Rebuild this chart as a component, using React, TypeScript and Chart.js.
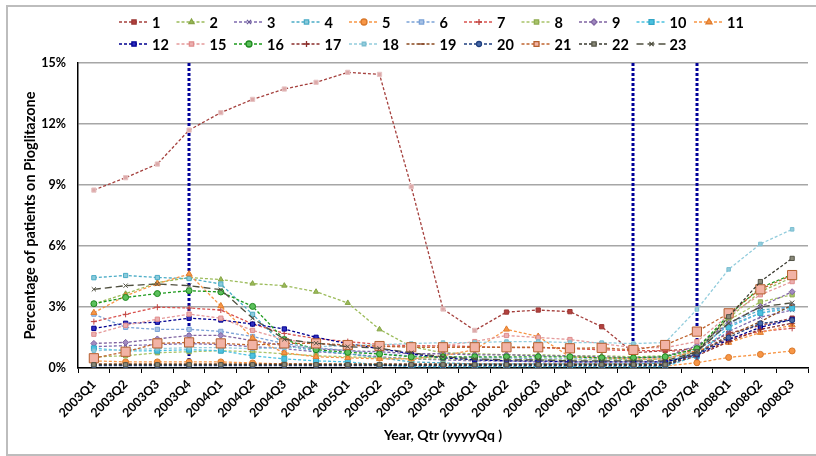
import React, { useEffect, useRef } from "react";
import { Chart, registerables } from "chart.js";
import { drawPoint } from "chart.js/helpers";
Chart.register(...registerables);

const quarters = [
  "2003Q1", "2003Q2", "2003Q3", "2003Q4", "2004Q1", "2004Q2", "2004Q3", "2004Q4",
  "2005Q1", "2005Q2", "2005Q3", "2005Q4", "2006Q1", "2006Q2", "2006Q3", "2006Q4",
  "2007Q1", "2007Q2", "2007Q3", "2007Q4", "2008Q1", "2008Q2", "2008Q3",
];
const markerQuarters = ["2003Q4", "2007Q2", "2007Q4"];
const yTickStep = 3;
const yMax = 15;

const s1 = [8.75, 9.36, 10.03, 11.7, 12.56, 13.21, 13.72, 14.05, 14.54, 14.44, 8.92, 2.9, 1.85, 2.75, 2.85, 2.77, 2.03, 0.75, 0.85, 0.95, 1.7, 2.1, 2.45];
const s2 = [3.15, 3.65, 4.2, 4.45, 4.35, 4.15, 4.05, 3.75, 3.2, 1.9, 1.05, 0.75, 0.7, 0.65, 0.65, 0.6, 0.6, 0.55, 0.6, 0.95, 2.45, 3.75, 4.45];
const s3 = [1.05, 1.1, 1.15, 1.2, 1.15, 1.05, 0.95, 0.8, 0.7, 0.55, 0.45, 0.4, 0.35, 0.35, 0.3, 0.3, 0.3, 0.3, 0.3, 0.7, 1.8, 2.5, 2.85];
const s4 = [4.44, 4.55, 4.45, 4.4, 4.13, 2.64, 1.1, 0.85, 0.7, 0.5, 0.3, 0.25, 0.2, 0.2, 0.2, 0.2, 0.2, 0.2, 0.25, 0.8, 2.2, 2.85, 3.0];
const s5 = [0.35, 0.3, 0.3, 0.3, 0.3, 0.25, 0.2, 0.2, 0.15, 0.15, 0.15, 0.1, 0.1, 0.1, 0.1, 0.1, 0.1, 0.1, 0.1, 0.26, 0.52, 0.67, 0.84];
const s6 = [2.65, 2.0, 1.9, 1.9, 1.8, 1.55, 1.2, 1.0, 0.85, 0.7, 0.6, 0.55, 0.5, 0.5, 0.45, 0.45, 0.45, 0.4, 0.45, 0.9, 2.1, 2.7, 3.05];
const s7 = [2.28, 2.64, 2.99, 2.95, 2.85, 2.16, 1.7, 1.45, 1.3, 1.15, 1.1, 1.1, 1.05, 1.0, 1.0, 0.95, 0.9, 0.85, 0.85, 0.8, 1.45, 1.8, 1.95];
const s8 = [0.55, 0.6, 0.75, 0.8, 0.85, 0.8, 0.7, 0.6, 0.55, 0.5, 0.45, 0.45, 0.4, 0.4, 0.4, 0.4, 0.4, 0.4, 0.45, 0.85, 2.35, 3.25, 3.6];
const s9 = [1.21, 1.26, 1.43, 1.6, 1.6, 1.35, 1.1, 0.95, 0.85, 0.8, 0.7, 0.7, 0.65, 0.65, 0.6, 0.6, 0.55, 0.5, 0.55, 1.1, 2.2, 3.02, 3.75];
const s10 = [0.97, 0.84, 0.85, 0.9, 0.85, 0.6, 0.45, 0.35, 0.3, 0.15, 0.07, 0.07, 0.07, 0.07, 0.07, 0.07, 0.07, 0.07, 0.07, 0.6, 2.0, 2.7, 2.93];
const s11 = [2.72, 3.55, 4.15, 4.62, 3.05, 1.47, 0.75, 0.55, 0.5, 0.45, 0.45, 0.6, 0.9, 1.9, 1.55, 0.55, 0.5, 0.45, 0.45, 0.85, 1.25, 1.74, 2.11];
const s12 = [1.95, 2.2, 2.25, 2.45, 2.36, 2.16, 1.92, 1.51, 1.2, 0.95, 0.7, 0.5, 0.4, 0.35, 0.35, 0.3, 0.3, 0.3, 0.3, 0.65, 1.4, 2.0, 2.39];
const s15 = [1.66, 2.1, 2.4, 2.65, 2.45, 1.85, 1.4, 1.2, 1.1, 1.05, 1.05, 1.1, 1.3, 1.6, 1.5, 1.4, 1.2, 1.0, 1.0, 1.3, 2.6, 3.6, 4.25];
const s16 = [3.16, 3.47, 3.66, 3.8, 3.74, 3.03, 1.4, 0.9, 0.77, 0.69, 0.55, 0.55, 0.55, 0.55, 0.55, 0.55, 0.5, 0.5, 0.55, 0.95, 2.6, 3.95, 4.6];
const s17 = [0.15, 0.15, 0.15, 0.15, 0.15, 0.15, 0.15, 0.15, 0.15, 0.15, 0.15, 0.15, 0.15, 0.15, 0.15, 0.15, 0.15, 0.15, 0.15, 0.6, 1.3, 1.9, 2.2];
const s18 = [0.85, 0.9, 0.95, 1.0, 1.0, 0.95, 1.0, 1.05, 1.1, 1.15, 1.2, 1.25, 1.25, 1.3, 1.3, 1.25, 1.25, 1.2, 1.25, 2.88, 4.85, 6.1, 6.82];
const s19 = [0.2, 0.2, 0.2, 0.2, 0.2, 0.2, 0.2, 0.2, 0.2, 0.2, 0.2, 0.2, 0.2, 0.2, 0.2, 0.2, 0.2, 0.2, 0.2, 0.7, 1.6, 2.28, 3.1];
const s20 = [0.12, 0.12, 0.12, 0.12, 0.12, 0.12, 0.12, 0.12, 0.12, 0.12, 0.12, 0.12, 0.12, 0.12, 0.12, 0.12, 0.12, 0.12, 0.12, 0.7, 1.5, 2.2, 2.35];
const s21 = [0.48, 0.8, 1.21, 1.26, 1.21, 1.13, 1.21, 1.21, 1.13, 1.08, 1.02, 1.02, 1.02, 1.02, 1.02, 0.97, 0.99, 0.89, 1.13, 1.79, 2.69, 3.87, 4.57];
const s22 = [0.16, 0.16, 0.16, 0.16, 0.16, 0.16, 0.16, 0.16, 0.16, 0.16, 0.16, 0.16, 0.16, 0.16, 0.16, 0.16, 0.16, 0.16, 0.16, 0.8, 2.52, 4.25, 5.39];
const s23 = [3.87, 4.05, 4.13, 4.05, 3.85, 2.45, 1.41, 1.22, 1.05, 0.97, 0.75, 0.55, 0.45, 0.4, 0.4, 0.35, 0.35, 0.35, 0.35, 0.8, 2.2, 3.0, 3.21];

const seriesNames = ["1", "2", "3", "4", "5", "6", "7", "8", "9", "10", "11", "12", "15", "16", "17", "18", "19", "20", "21", "22", "23"];
const seriesValues = [s1, s2, s3, s4, s5, s6, s7, s8, s9, s10, s11, s12, s15, s16, s17, s18, s19, s20, s21, s22, s23];

// style table: [line color, marker fill, marker border, point style, radius, dash]
const seriesStyles: any[] = [
  ["#A5403D", "#B3413D", "#9A3835", "rect", 3, [3, 2]],
  ["#9BBB59", "#9BBB59", "#86A447", "triangle", 3, [3, 2]],
  ["#7F6BAF", "#7F6BAF", "#6A589A", "crossRot", 3, [3, 2]],
  ["#4BACC6", "#8CCBDB", "#4BACC6", "rect", 3, [3, 2]],
  ["#F79646", "#F79646", "#D9782A", "circle", 3, [3, 2]],
  ["#7BA2D6", "#A7C2E6", "#7BA2D6", "rect", 3, [3, 2]],
  ["#D9534F", "#D9534F", "#C04440", "cross", 3, [3, 2]],
  ["#A9C46A", "#A9C46A", "#90AC52", "rect", 3, [3, 2]],
  ["#8064A2", "#A08AC0", "#8064A2", "rectRot", 3, [3, 2]],
  ["#4BC1E0", "#4BC1E0", "#33A6C6", "rect", 3.5, [3, 2]],
  ["#F79646", "#F79646", "#E07D2E", "triangle", 3.5, [3, 2]],
  ["#000090", "#3030C0", "#000090", "rect", 3, [3, 2]],
  ["#E59A9A", "#EBB0B0", "#E08C8C", "rect", 3, [3, 2]],
  ["#1E9A1E", "#5CC05C", "#1E8A1E", "circle", 3, [3, 2]],
  ["#8B2E2B", "#8B2E2B", "#8B2E2B", "cross", 3, [3, 2]],
  ["#93CDDD", "#93CDDD", "#7ABDD0", "rect", 2.5, [3, 2]],
  ["#8A4A1F", "#8A4A1F", "#7F3F1F", "line", 3, [3, 2]],
  ["#1F3F7F", "#4A6AA8", "#1F3F7F", "circle", 2.5, [3, 2]],
  ["#C0642F", "#F2B3A5", "#B5602F", "rect", 6.5, [3, 2]],
  ["#3A3A30", "#8A8A7A", "#555548", "rect", 3, [3, 2]],
  ["#4F4F3F", "#8A8A7A", "#4F4F3F", "crossRot", 3, [7, 4]],
];

const FONT = "Lato, 'Open Sans', sans-serif";

const framePlugin = {
  id: "frame",
  beforeDraw(chart: any) {
    const ctx = chart.ctx;
    ctx.save();
    ctx.fillStyle = "#fff";
    ctx.fillRect(0, 0, chart.width, chart.height);
    ctx.strokeStyle = "#BDBDBD";
    ctx.lineWidth = 2;
    ctx.strokeRect(7, 6, chart.width + 20, chart.height - 7);
    ctx.restore();
  },
};

const vlinePlugin = {
  id: "vlines",
  beforeDatasetsDraw(chart: any) {
    const { ctx, chartArea, scales } = chart;
    ctx.save();
    ctx.strokeStyle = "#000099";
    ctx.lineWidth = 3;
    ctx.setLineDash([3, 2]);
    markerQuarters.forEach((q) => {
      const x = Math.round(scales.x.getPixelForValue(quarters.indexOf(q)));
      ctx.beginPath();
      ctx.moveTo(x, chartArea.top);
      ctx.lineTo(x, chartArea.bottom);
      ctx.stroke();
    });
    ctx.restore();
  },
};

const legendPlugin = {
  id: "customLegend",
  afterDraw(chart: any) {
    const ctx = chart.ctx;
    const perRow = 11;
    const left = 119;
    const colW = 57.5;
    const top = 22;
    const rowH = 22;
    chart.data.datasets.forEach((ds: any, i: number) => {
      const col = i % perRow;
      const row = Math.floor(i / perRow);
      const x = left + col * colW;
      const y = top + row * rowH;
      ctx.save();
      ctx.strokeStyle = ds.borderColor;
      ctx.lineWidth = 1.3;
      ctx.setLineDash(ds.borderDash);
      ctx.beginPath();
      ctx.moveTo(x, y);
      ctx.lineTo(x + 30, y);
      ctx.stroke();
      ctx.setLineDash([]);
      ctx.fillStyle = ds.pointBackgroundColorLegend;
      ctx.strokeStyle = ds.pointBorderColorLegend;
      drawPoint(ctx, { pointStyle: ds.pointStyle, radius: Math.min(ds.pointRadius, 3.5), borderWidth: 1, rotation: 0 }, x + 15, y);
      ctx.fillStyle = "#000";
      ctx.font = `bold 14.5px ${FONT}`;
      ctx.textBaseline = "middle";
      ctx.textAlign = "left";
      ctx.fillText(ds.label, x + 33, y + 1);
      ctx.restore();
    });
  },
};

export default function App() {
  const ref = useRef<HTMLCanvasElement>(null);
  useEffect(() => {
    if (!ref.current) return;
    const datasets = seriesValues.map((vals, i) => {
      const [line, fill, border, style, radius, dash] = seriesStyles[i];
      const isFirst = i === 0;
      return {
        label: seriesNames[i],
        data: vals,
        borderColor: line,
        borderWidth: 1.3,
        borderDash: dash,
        pointStyle: style,
        pointRadius: radius,
        pointBorderWidth: 1,
        pointBackgroundColorLegend: fill,
        pointBorderColorLegend: border,
        pointBackgroundColor: isFirst
          ? (c: any) => (c.dataIndex < 13 ? "#DDA9A9" : fill)
          : fill,
        pointBorderColor: isFirst
          ? (c: any) => (c.dataIndex < 13 ? "#E6C4C4" : border)
          : border,
        fill: false,
        tension: 0,
        order: 100 - i,
      };
    });
    const chart = new Chart(ref.current, {
      type: "line",
      data: { labels: quarters, datasets },
      options: {
        animation: false,
        responsive: false,
        maintainAspectRatio: false,
        layout: { padding: { top: 63, right: 8, left: 0, bottom: 0 } },
        plugins: { legend: { display: false }, tooltip: { enabled: false } },
        scales: {
          x: {
            offset: true,
            afterFit: (s: any) => { s.height = 88; },
            grid: { offset: true, drawOnChartArea: false, drawTicks: true, tickLength: 5, color: "#000", lineWidth: 1 },
            border: { color: "#000", width: 1.5 },
            ticks: {
              autoSkip: false,
              maxRotation: 45,
              minRotation: 45,
              padding: 4,
              color: "#000",
              font: { family: FONT, size: 12.5, weight: "bold" },
            },
            title: {
              display: true,
              text: "Year, Qtr (yyyyQq )",
              color: "#000",
              font: { family: FONT, size: 14, weight: "bold" },
              padding: { top: 0, bottom: 12 },
            },
          },
          y: {
            min: 0,
            max: yMax,
            afterFit: (s: any) => { s.width = 78; },
            grid: { color: "#A6A6A6", lineWidth: 1.5, drawTicks: false },
            border: { color: "#000", width: 1.5 },
            ticks: {
              stepSize: yTickStep,
              padding: 12,
              color: "#000",
              callback: (v: any) => `${v}%`,
              font: { family: FONT, size: 12.5, weight: "bold" },
            },
            title: {
              display: true,
              text: "Percentage of patients on Pioglitazone",
              color: "#000",
              font: { family: FONT, size: 14.5, weight: "bold" },
              padding: { top: 22, bottom: 0 },
            },
          },
        },
      },
      plugins: [framePlugin, vlinePlugin, legendPlugin],
    } as any);
    return () => chart.destroy();
  }, []);
  return (
    <div style={{ position: "fixed", left: 0, top: 0, width: 816, height: 456, background: "#fff" }}>
      <canvas ref={ref} width={816} height={456} style={{ width: 816, height: 456, display: "block" }} />
    </div>
  );
}
